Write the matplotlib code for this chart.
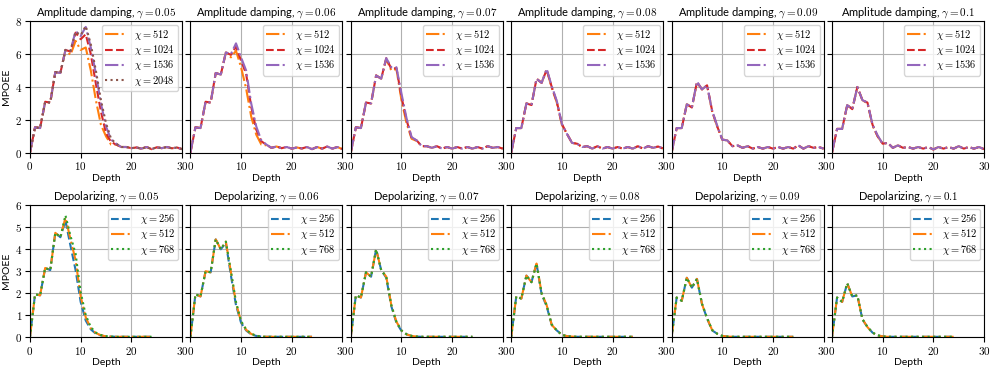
import matplotlib
matplotlib.use("Agg")
import matplotlib.pyplot as plt
from matplotlib.ticker import FuncFormatter

plt.rcParams["mathtext.fontset"] = "cm"
plt.rcParams["font.family"] = ["Lato", "DejaVu Sans"]

# Depth values
depth_amp = list(range(31))
depth_dep = list(range(25))

gammas = ["0.05", "0.06", "0.07", "0.08", "0.09", "0.1"]

# Amplitude damping, MPOEE vs depth
amp_005_512 = [0, 1.55, 1.5, 3.1, 3.05, 4.9, 4.85, 6.25, 5.95, 6.8, 6.25, 6.4, 5.0, 3.2, 1.7, 1.0, 0.5, 0.5,
               0.35, 0.35, 0.28, 0.32, 0.25, 0.35, 0.22, 0.33, 0.28, 0.35, 0.27, 0.32, 0.22]
amp_005_1024 = [0, 1.55, 1.5, 3.1, 3.05, 4.9, 4.85, 6.25, 6.15, 7.3, 6.9, 7.2, 6.0, 4.2, 2.5, 1.2, 0.65, 0.5,
                0.35, 0.35, 0.28, 0.32, 0.25, 0.35, 0.22, 0.33, 0.28, 0.35, 0.27, 0.32, 0.22]
amp_005_1536 = [0, 1.55, 1.5, 3.1, 3.05, 4.9, 4.85, 6.25, 6.2, 7.4, 7.1, 7.65, 6.4, 4.8, 3.0, 1.6, 0.8, 0.55,
                0.35, 0.35, 0.28, 0.32, 0.25, 0.35, 0.22, 0.33, 0.28, 0.35, 0.27, 0.32, 0.22]
amp_005_2048 = [0, 1.55, 1.5, 3.1, 3.05, 4.9, 4.85, 6.25, 6.2, 7.35, 7.15, 7.7, 6.6, 5.0, 3.2, 1.8, 0.85, 0.55,
                0.35, 0.35, 0.28, 0.32, 0.25, 0.35, 0.22, 0.33, 0.28, 0.35, 0.27, 0.32, 0.22]

amp_006_512 = [0, 1.55, 1.5, 3.1, 3.05, 4.85, 4.75, 6.1, 5.8, 6.2, 5.2, 3.9, 2.2, 1.1, 0.5, 0.45,
               0.3, 0.38, 0.28, 0.35, 0.25, 0.32, 0.26, 0.35, 0.22, 0.35, 0.25, 0.38, 0.25, 0.35, 0.22]
amp_006_1024 = [0, 1.55, 1.5, 3.1, 3.05, 4.85, 4.75, 6.1, 5.95, 6.45, 5.6, 4.8, 2.8, 1.4, 0.7, 0.48,
                0.3, 0.38, 0.28, 0.35, 0.25, 0.32, 0.26, 0.35, 0.22, 0.35, 0.25, 0.38, 0.25, 0.35, 0.22]
amp_006_1536 = [0, 1.55, 1.5, 3.1, 3.05, 4.85, 4.75, 6.1, 6.0, 6.65, 5.8, 5.0, 3.0, 1.6, 0.75, 0.5,
                0.3, 0.38, 0.28, 0.35, 0.25, 0.32, 0.26, 0.35, 0.22, 0.35, 0.25, 0.38, 0.25, 0.35, 0.22]

amp_007_512 = [0, 1.55, 1.5, 3.05, 3.0, 4.7, 4.5, 5.7, 5.0, 5.1, 3.2, 1.8, 0.85, 0.72, 0.4, 0.4,
               0.3, 0.4, 0.25, 0.35, 0.25, 0.35, 0.25, 0.35, 0.25, 0.35, 0.25, 0.4, 0.3, 0.35, 0.25]
amp_007_1024 = [0, 1.55, 1.5, 3.05, 3.0, 4.7, 4.5, 5.75, 5.1, 5.15, 3.4, 2.0, 0.9, 0.75, 0.4, 0.4,
                0.3, 0.4, 0.25, 0.35, 0.25, 0.35, 0.25, 0.35, 0.25, 0.35, 0.25, 0.4, 0.3, 0.35, 0.25]
amp_007_1536 = [0, 1.55, 1.5, 3.05, 3.0, 4.7, 4.5, 5.75, 5.2, 5.2, 3.6, 2.1, 0.95, 0.75, 0.4, 0.4,
                0.3, 0.4, 0.25, 0.35, 0.25, 0.35, 0.25, 0.35, 0.25, 0.35, 0.25, 0.4, 0.3, 0.35, 0.25]

amp_008_512 = [0, 1.5, 1.5, 3.0, 2.9, 4.5, 4.25, 5.05, 3.95, 3.05, 1.7, 1.15, 0.6, 0.55, 0.35, 0.4,
               0.25, 0.4, 0.25, 0.35, 0.25, 0.35, 0.25, 0.35, 0.25, 0.4, 0.25, 0.4, 0.3, 0.38, 0.25]
amp_008_1024 = [0, 1.5, 1.5, 3.0, 2.9, 4.5, 4.25, 5.05, 4.0, 3.1, 1.75, 1.15, 0.6, 0.55, 0.35, 0.4,
                0.25, 0.4, 0.25, 0.35, 0.25, 0.35, 0.25, 0.35, 0.25, 0.4, 0.25, 0.4, 0.3, 0.38, 0.25]
amp_008_1536 = [0, 1.5, 1.5, 3.0, 2.9, 4.5, 4.25, 5.1, 4.05, 3.15, 1.75, 1.15, 0.6, 0.55, 0.35, 0.4,
                0.25, 0.4, 0.25, 0.35, 0.25, 0.35, 0.25, 0.35, 0.25, 0.4, 0.25, 0.4, 0.3, 0.38, 0.25]

amp_009_512 = [0, 1.5, 1.5, 2.95, 2.75, 4.3, 3.85, 4.1, 2.5, 1.6, 0.8, 0.75, 0.4, 0.45, 0.3, 0.4,
               0.25, 0.35, 0.25, 0.35, 0.25, 0.35, 0.25, 0.35, 0.25, 0.45, 0.25, 0.4, 0.3, 0.35, 0.25]
amp_009_1024 = [0, 1.5, 1.5, 2.95, 2.75, 4.3, 3.85, 4.1, 2.55, 1.6, 0.8, 0.75, 0.4, 0.45, 0.3, 0.4,
                0.25, 0.35, 0.25, 0.35, 0.25, 0.35, 0.25, 0.35, 0.25, 0.45, 0.25, 0.4, 0.3, 0.35, 0.25]
amp_009_1536 = [0, 1.5, 1.5, 2.95, 2.75, 4.33, 3.85, 4.1, 2.55, 1.65, 0.8, 0.75, 0.4, 0.45, 0.3, 0.4,
                0.25, 0.35, 0.25, 0.35, 0.25, 0.35, 0.25, 0.35, 0.25, 0.45, 0.25, 0.4, 0.3, 0.35, 0.25]

amp_010_512 = [0, 1.45, 1.45, 2.9, 2.65, 4.0, 3.2, 3.0, 1.65, 1.0, 0.55, 0.6, 0.3, 0.45, 0.3, 0.35,
               0.25, 0.35, 0.25, 0.35, 0.2, 0.35, 0.25, 0.35, 0.25, 0.4, 0.25, 0.35, 0.25, 0.35, 0.22]
amp_010_1024 = [0, 1.45, 1.45, 2.9, 2.65, 4.0, 3.2, 3.05, 1.7, 1.0, 0.55, 0.6, 0.3, 0.45, 0.3, 0.35,
                0.25, 0.35, 0.25, 0.35, 0.2, 0.35, 0.25, 0.35, 0.25, 0.4, 0.25, 0.35, 0.25, 0.35, 0.22]
amp_010_1536 = [0, 1.45, 1.45, 2.9, 2.65, 4.0, 3.2, 3.05, 1.7, 1.05, 0.55, 0.6, 0.3, 0.45, 0.3, 0.35,
                0.25, 0.35, 0.25, 0.35, 0.2, 0.35, 0.25, 0.35, 0.25, 0.4, 0.25, 0.35, 0.25, 0.35, 0.22]

# Depolarizing, MPOEE vs depth
dep_005_256 = [0, 1.95, 1.9, 3.15, 3.05, 4.75, 4.55, 5.3, 4.15, 3.05, 1.6, 0.75, 0.35, 0.15, 0.07, 0.03,
               0.02, 0.01, 0.01, 0.01, 0.01, 0.01, 0.01, 0.01, 0.01]
dep_005_512 = [0, 1.95, 1.9, 3.15, 3.05, 4.75, 4.55, 5.45, 4.45, 3.5, 1.85, 0.9, 0.4, 0.18, 0.08, 0.03,
               0.02, 0.01, 0.01, 0.01, 0.01, 0.01, 0.01, 0.01, 0.01]
dep_005_768 = [0, 1.95, 1.9, 3.15, 3.05, 4.75, 4.55, 5.55, 4.6, 3.8, 2.05, 1.0, 0.45, 0.2, 0.09, 0.04,
               0.02, 0.01, 0.01, 0.01, 0.01, 0.01, 0.01, 0.01, 0.01]

dep_006_256 = [0, 1.95, 1.85, 3.0, 2.95, 4.45, 4.0, 4.3, 2.8, 1.45, 0.65, 0.3, 0.12, 0.05, 0.02, 0.01,
               0.01, 0.01, 0.01, 0.01, 0.01, 0.01, 0.01, 0.01, 0.01]
dep_006_512 = [0, 1.95, 1.85, 3.0, 2.95, 4.45, 4.0, 4.35, 2.95, 1.55, 0.7, 0.33, 0.14, 0.06, 0.02, 0.01,
               0.01, 0.01, 0.01, 0.01, 0.01, 0.01, 0.01, 0.01, 0.01]
dep_006_768 = [0, 1.95, 1.85, 3.0, 2.95, 4.45, 4.0, 4.35, 3.0, 1.6, 0.72, 0.35, 0.15, 0.06, 0.02, 0.01,
               0.01, 0.01, 0.01, 0.01, 0.01, 0.01, 0.01, 0.01, 0.01]

dep_007_256 = [0, 1.9, 1.8, 2.95, 2.75, 4.0, 3.05, 2.7, 1.4, 0.65, 0.28, 0.12, 0.05, 0.02, 0.01, 0.01,
               0.01, 0.01, 0.01, 0.01, 0.01, 0.01, 0.01, 0.01, 0.01]
dep_007_512 = [0, 1.9, 1.8, 2.95, 2.75, 4.0, 3.05, 2.75, 1.45, 0.7, 0.3, 0.12, 0.05, 0.02, 0.01, 0.01,
               0.01, 0.01, 0.01, 0.01, 0.01, 0.01, 0.01, 0.01, 0.01]
dep_007_768 = [0, 1.9, 1.8, 2.95, 2.75, 4.0, 3.05, 2.75, 1.45, 0.7, 0.3, 0.13, 0.05, 0.02, 0.01, 0.01,
               0.01, 0.01, 0.01, 0.01, 0.01, 0.01, 0.01, 0.01, 0.01]

dep_008_256 = [0, 1.85, 1.75, 2.8, 2.5, 3.35, 1.95, 1.4, 0.55, 0.3, 0.1, 0.04, 0.02, 0.01, 0.01, 0.01,
               0.01, 0.01, 0.01, 0.01, 0.01, 0.01, 0.01, 0.01, 0.01]
dep_008_512 = [0, 1.85, 1.75, 2.8, 2.5, 3.35, 2.0, 1.45, 0.55, 0.3, 0.1, 0.04, 0.02, 0.01, 0.01, 0.01,
               0.01, 0.01, 0.01, 0.01, 0.01, 0.01, 0.01, 0.01, 0.01]
dep_008_768 = [0, 1.85, 1.75, 2.8, 2.5, 3.35, 2.0, 1.45, 0.57, 0.3, 0.1, 0.04, 0.02, 0.01, 0.01, 0.01,
               0.01, 0.01, 0.01, 0.01, 0.01, 0.01, 0.01, 0.01, 0.01]

dep_009_256 = [0, 1.8, 1.65, 2.7, 2.25, 2.65, 1.5, 0.85, 0.3, 0.15, 0.05, 0.02, 0.01, 0.01, 0.01, 0.01,
               0.01, 0.01, 0.01, 0.01, 0.01, 0.01, 0.01, 0.01, 0.01]
dep_009_512 = [0, 1.8, 1.65, 2.7, 2.25, 2.65, 1.5, 0.85, 0.32, 0.15, 0.05, 0.02, 0.01, 0.01, 0.01, 0.01,
               0.01, 0.01, 0.01, 0.01, 0.01, 0.01, 0.01, 0.01, 0.01]
dep_009_768 = [0, 1.8, 1.65, 2.7, 2.25, 2.65, 1.52, 0.87, 0.32, 0.15, 0.05, 0.02, 0.01, 0.01, 0.01, 0.01,
               0.01, 0.01, 0.01, 0.01, 0.01, 0.01, 0.01, 0.01, 0.01]

dep_010_256 = [0, 1.8, 1.6, 2.45, 1.85, 1.9, 0.8, 0.45, 0.2, 0.07, 0.03, 0.01, 0.01, 0.01, 0.01, 0.01,
               0.01, 0.01, 0.01, 0.01, 0.01, 0.01, 0.01, 0.01, 0.01]
dep_010_512 = [0, 1.8, 1.6, 2.45, 1.85, 1.9, 0.82, 0.45, 0.2, 0.07, 0.03, 0.01, 0.01, 0.01, 0.01, 0.01,
               0.01, 0.01, 0.01, 0.01, 0.01, 0.01, 0.01, 0.01, 0.01]
dep_010_768 = [0, 1.8, 1.6, 2.45, 1.85, 1.9, 0.82, 0.46, 0.2, 0.08, 0.03, 0.01, 0.01, 0.01, 0.01, 0.01,
               0.01, 0.01, 0.01, 0.01, 0.01, 0.01, 0.01, 0.01, 0.01]

amp_chis = [512, 1024, 1536, 2048]
dep_chis = [256, 512, 768]

amp_series = [
    [amp_005_512, amp_005_1024, amp_005_1536, amp_005_2048],
    [amp_006_512, amp_006_1024, amp_006_1536],
    [amp_007_512, amp_007_1024, amp_007_1536],
    [amp_008_512, amp_008_1024, amp_008_1536],
    [amp_009_512, amp_009_1024, amp_009_1536],
    [amp_010_512, amp_010_1024, amp_010_1536],
]
dep_series = [
    [dep_005_256, dep_005_512, dep_005_768],
    [dep_006_256, dep_006_512, dep_006_768],
    [dep_007_256, dep_007_512, dep_007_768],
    [dep_008_256, dep_008_512, dep_008_768],
    [dep_009_256, dep_009_512, dep_009_768],
    [dep_010_256, dep_010_512, dep_010_768],
]

# styles per bond dimension
amp_styles = {512: ("#ff7f0e", "-."), 1024: ("#d62728", "--"), 1536: ("#9467bd", "-."), 2048: ("#8c564b", ":")}
dep_styles = {256: ("#1f77b4", "--"), 512: ("#ff7f0e", "-."), 768: ("#2ca02c", ":")}

math_fmt = FuncFormatter(lambda v, p: f"${v:g}$")

fig, axes = plt.subplots(2, 6, figsize=(9.96, 3.71), dpi=100, sharey="row")
fig.subplots_adjust(left=0.0301, right=0.988, top=0.943, bottom=0.0916, wspace=0.055, hspace=0.40)


def style_axis(ax, title, ymax, yticks):
    ax.set_title(title, fontsize=8, pad=4)
    ax.set_xlim(0, 30)
    ax.set_ylim(0, ymax)
    ax.set_xticks([0, 10, 20, 30])
    ax.set_yticks(yticks)
    ax.xaxis.set_major_formatter(math_fmt)
    ax.yaxis.set_major_formatter(math_fmt)
    ax.tick_params(labelsize=8, length=3.5, pad=2)
    ax.grid(True, color="#b0b0b0", linewidth=0.8)
    ax.set_axisbelow(True)
    ax.set_xlabel("Depth", fontsize=7.5, labelpad=1)
    ax.legend(loc="upper right", fontsize=7.5, handlelength=2.1, borderpad=0.3,
              labelspacing=0.12, handletextpad=0.7, borderaxespad=0.35)


for i, g in enumerate(gammas):
    ax = axes[0, i]
    for chi, ys in zip(amp_chis, amp_series[i]):
        c, ls = amp_styles[chi]
        ax.plot(depth_amp, ys, color=c, linestyle=ls, linewidth=1.5, label=rf"$\chi = {chi}$")
    style_axis(ax, rf"Amplitude damping, $\gamma = {g}$", 8, [0, 2, 4, 6, 8])

    ax = axes[1, i]
    for chi, ys in zip(dep_chis, dep_series[i]):
        c, ls = dep_styles[chi]
        ax.plot(depth_dep, ys, color=c, linestyle=ls, linewidth=1.5, label=rf"$\chi = {chi}$")
    style_axis(ax, rf"Depolarizing, $\gamma = {g}$", 6, [0, 1, 2, 3, 4, 5, 6])

axes[0, 0].set_ylabel("MPOEE", fontsize=7.5, labelpad=3)
axes[1, 0].set_ylabel("MPOEE", fontsize=7.5, labelpad=3)

fig.savefig("out.png", dpi=100)
